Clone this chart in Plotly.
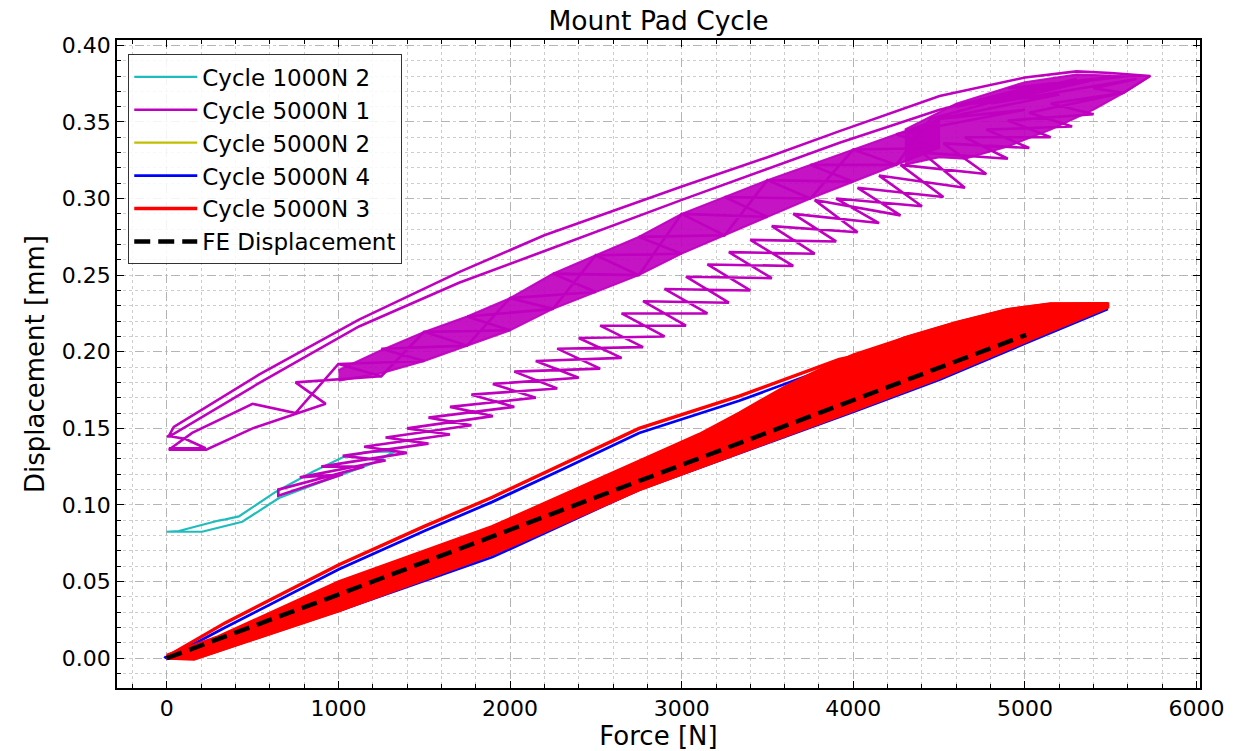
import plotly.graph_objects as go

# ---------------- data ----------------
# Cycle 1000N 2 (cyan)
c1000_2_x = [0, 206, 440, 654, 829, 1004, 1198, 1330, 1159, 1023, 848, 634, 420, 342, 303, 70, 0]
c1000_2_y = [0.0825, 0.0825, 0.0890, 0.1045, 0.1120, 0.1190, 0.1270, 0.1350, 0.1345, 0.1310, 0.1215, 0.1085, 0.0925, 0.0906, 0.0898, 0.0830, 0.0825]

# Cycle 5000N 1 (magenta) - traced path through the loops
c5000_1_x = [
    # start cluster + outer loading line
    12, 226, 110, 12, 41, 537, 1120, 1703, 2200, 3005, 3500, 3920, 4503, 5000, 5300, 5500, 5730,
    # unloading down the lower band
    5575, 5025, 5275, 4775, 5025, 4525, 4775, 4275, 4525, 4025, 4275, 3775, 4025, 3525, 3775, 3275,
    3525, 3025, 3275, 2775, 3025, 2525, 2775, 2275, 2525, 2025, 2275, 1775, 2025, 1525, 1775, 1275,
    1525, 1025, 1275, 775, 1025, 650,
    # reloading up the lower band
    650, 1150, 900, 1400, 1150, 1650, 1400, 1900, 1650, 2150, 1900, 2400, 2150, 2650, 2400, 2900,
    2650, 3150, 2900, 3400, 3150, 3650, 3400, 3900, 3650, 4150, 3900, 4400, 4150, 4650, 4400, 4900,
    4650, 5150, 4900, 5400, 5150, 5575, 5400, 5650,
    # top cluster and middle band downwards
    4800, 5500, 4600, 5300, 4450,
    4250, 4000, 3750, 3500, 3250, 3000, 2750, 2500, 2250, 2000, 1750, 1500, 1250, 1000, 750, 500,
    148, 12, 230, 500, 926,
    # middle band upwards
    750, 1250, 1000, 1500, 1250, 1750, 1500, 2000, 1750, 2250, 2000, 2500, 2250, 2750, 2500, 3000,
    2750, 3250, 3000, 3500, 3250, 3750, 3500, 4000, 3750, 4250, 4000, 4500, 4250,
    5000, 4500, 5200, 4700, 5400, 4900, 5600,
    # second outer line back to the start
    5000, 4503, 3920, 3005, 2170, 1703, 1120, 537, 31, 0,
]
c5000_1_y = [
    0.137, 0.137, 0.143, 0.145, 0.151, 0.185, 0.221, 0.252, 0.276, 0.308, 0.327, 0.344, 0.367, 0.379, 0.383, 0.382, 0.380,
    0.369, 0.356, 0.347, 0.345, 0.333, 0.336, 0.316, 0.322, 0.301, 0.307, 0.289, 0.299, 0.278, 0.282, 0.264, 0.265,
    0.248, 0.249, 0.232, 0.233, 0.217, 0.217, 0.203, 0.202, 0.189, 0.187, 0.176, 0.172, 0.164, 0.157, 0.152, 0.144,
    0.140, 0.132, 0.129, 0.118, 0.120, 0.106,
    0.110, 0.125, 0.125, 0.134, 0.138, 0.146, 0.150, 0.158, 0.164, 0.170, 0.179, 0.183, 0.194, 0.196, 0.209, 0.210,
    0.225, 0.225, 0.241, 0.240, 0.257, 0.256, 0.273, 0.272, 0.290, 0.284, 0.300, 0.295, 0.315, 0.307, 0.330, 0.326,
    0.340, 0.340, 0.351, 0.355, 0.362, 0.369, 0.372, 0.378,
    0.362, 0.380, 0.360, 0.378, 0.352,
    0.322, 0.332, 0.300, 0.312, 0.276, 0.290, 0.250, 0.263, 0.228, 0.235, 0.204, 0.213, 0.184, 0.192, 0.160, 0.166,
    0.147, 0.136, 0.136, 0.150, 0.166,
    0.180, 0.184, 0.192, 0.194, 0.202, 0.204, 0.213, 0.214, 0.223, 0.228, 0.235, 0.239, 0.251, 0.250, 0.263, 0.264,
    0.275, 0.276, 0.290, 0.288, 0.301, 0.300, 0.312, 0.311, 0.322, 0.322, 0.332, 0.333, 0.342,
    0.358, 0.352, 0.368, 0.362, 0.378, 0.372, 0.380,
    0.372, 0.358, 0.3364, 0.2993, 0.2645, 0.245, 0.2165, 0.1795, 0.1458, 0.1445,
]
# densely overlapping parts of Cycle 5000N 1 (middle band and top cluster outlines)
c5000_1_mid_x = [1000, 1250, 1500, 1750, 2000, 2250, 2500, 2750, 3000, 3250, 3500, 3750, 4000, 4250, 4500,
                 4500, 4250, 4000, 3750, 3500, 3250, 3000, 2750, 2500, 2250, 2000, 1750, 1500, 1250, 1000]
c5000_1_mid_y = [0.188, 0.201, 0.213, 0.223, 0.235, 0.251, 0.263, 0.275, 0.290, 0.301, 0.312, 0.322, 0.332, 0.342, 0.352,
                 0.333, 0.322, 0.311, 0.300, 0.288, 0.276, 0.264, 0.250, 0.239, 0.228, 0.214, 0.204, 0.194, 0.186, 0.181]
c5000_1_top_x = [4300, 4600, 5000, 5300, 5600, 5730, 5575, 5400, 5150, 4900, 4650, 4500, 4300]
c5000_1_top_y = [0.345, 0.362, 0.376, 0.381, 0.380, 0.380, 0.369, 0.358, 0.345, 0.334, 0.326, 0.327, 0.322]

# Cycle 5000N 2 (olive) - lies underneath the red band
c5000_2_x = [0, 1000, 2000, 3000, 4000, 5000, 5450]
c5000_2_y = [0.0, 0.042, 0.079, 0.130, 0.178, 0.218, 0.230]

# Cycle 5000N 4 (blue)
c5000_4_x = [-15, 0, 340, 1003, 1500, 1897, 2300, 2752, 3335, 3918, 4060, 4600, 5100, 5483,
             5007, 4501, 4006, 3335, 2752, 1897, 1003, 300, 0]
c5000_4_y = [0.001, 0.0, 0.020, 0.058, 0.083, 0.102, 0.123, 0.147, 0.168, 0.192, 0.196, 0.212, 0.224, 0.228,
             0.2057, 0.1817, 0.161, 0.1338, 0.1100, 0.066, 0.031, 0.008, 0.0]

# Cycle 5000N 3 (red): first loading line, then the band of repeated cycles
c5000_3_x = [0, 340, 1003, 1500, 1897, 2300, 2752, 3335, 3918, 4074, 4300, 4600, 4900, 5150, 5483,
             5007, 4501, 4006, 3335, 2752, 1897, 1003, 160, 0]
c5000_3_y = [0.001, 0.023, 0.061, 0.086, 0.105, 0.126, 0.150, 0.171, 0.195, 0.1985, 0.209, 0.219, 0.2275, 0.2312, 0.2314,
             0.207, 0.183, 0.162, 0.134, 0.110, 0.068, 0.031, -0.0005, 0.0]
band_top_x = [0, 300, 1003, 1897, 2800, 3100, 3335, 3600, 3800, 4000, 4300, 4600, 4900, 5150, 5483]
band_top_y = [0.002, 0.014, 0.050, 0.086, 0.131, 0.146, 0.160, 0.177, 0.188, 0.198, 0.209, 0.219, 0.2275, 0.2312, 0.2314]
band_bot_x = [5483, 5007, 4501, 4006, 3335, 2752, 1897, 1003, 160, 0]
band_bot_y = [0.229, 0.207, 0.183, 0.162, 0.134, 0.110, 0.068, 0.031, -0.0005, 0.0]

# FE Displacement
fe_x = [0, 1000, 2000, 3000, 4000, 5007]
fe_y = [0.0, 0.0415, 0.0838, 0.1260, 0.1683, 0.2110]

x_ticks = [0, 1000, 2000, 3000, 4000, 5000, 6000]
y_ticks = [0.00, 0.05, 0.10, 0.15, 0.20, 0.25, 0.30, 0.35, 0.40]

# ---------------- figure ----------------
FONT = "DejaVu Sans"
MAG = "#bf00bf"
MAG_FILL = "rgba(191,0,191,0.92)"
fig = go.Figure()

fig.add_trace(go.Scatter(x=c1000_2_x, y=c1000_2_y, mode="lines", name="Cycle 1000N 2",
                         line=dict(color="#1fbcbc", width=2.2), legendgroup="g1"))
for fx, fy in ((c5000_1_mid_x, c5000_1_mid_y), (c5000_1_top_x, c5000_1_top_y)):
    fig.add_trace(go.Scatter(x=fx, y=fy, mode="lines", fill="toself", fillcolor=MAG_FILL,
                             line=dict(color=MAG_FILL, width=2), showlegend=False,
                             hoverinfo="skip", legendgroup="g2"))
fig.add_trace(go.Scatter(x=c5000_1_x, y=c5000_1_y, mode="lines", name="Cycle 5000N 1",
                         line=dict(color=MAG, width=2.6), legendgroup="g2"))
fig.add_trace(go.Scatter(x=c5000_2_x, y=c5000_2_y, mode="lines", name="Cycle 5000N 2",
                         line=dict(color="#bfbf00", width=2.2), legendgroup="g3"))
fig.add_trace(go.Scatter(x=c5000_4_x, y=c5000_4_y, mode="lines", name="Cycle 5000N 4",
                         line=dict(color="#0000ff", width=2.8), legendgroup="g4"))
fig.add_trace(go.Scatter(x=c5000_3_x, y=c5000_3_y, mode="lines", name="Cycle 5000N 3",
                         line=dict(color="#ff0000", width=3.4), legendgroup="g5"))
fig.add_trace(go.Scatter(x=band_top_x + band_bot_x, y=band_top_y + band_bot_y, mode="lines",
                         fill="toself", fillcolor="#ff0000", showlegend=False, hoverinfo="skip",
                         line=dict(color="#ff0000", width=3), legendgroup="g5"))
fig.add_trace(go.Scatter(x=fe_x, y=fe_y, mode="lines", name="FE Displacement",
                         line=dict(color="black", width=4.5, dash="16px,8px"), legendgroup="g6"))

axis_common = dict(
    showline=True, linecolor="black", linewidth=1.5, mirror="allticks",
    ticks="inside", ticklen=7, tickwidth=1.2, tickcolor="black",
    showgrid=True, gridcolor="#b4b4b4", gridwidth=1, griddash="dash",
    zeroline=False, automargin=False,
    tickfont=dict(family=FONT, size=22, color="black"),
)

fig.update_xaxes(
    **axis_common,
    range=[-290, 6020], tickvals=x_ticks, ticktext=[str(v) for v in x_ticks],
    minor=dict(dtick=200, tick0=0, ticks="inside", ticklen=4, tickcolor="black",
               showgrid=True, gridcolor="#cdcdcd", griddash="dot", gridwidth=1),
    title=dict(text="Force [N]", font=dict(family=FONT, size=26, color="black"), standoff=4),
)
fig.update_yaxes(
    **axis_common,
    range=[-0.0195, 0.4035], tickvals=y_ticks, ticktext=[f"{v:.2f}" for v in y_ticks],
    minor=dict(dtick=0.01, tick0=0, ticks="inside", ticklen=4, tickcolor="black",
               showgrid=True, gridcolor="#cdcdcd", griddash="dot", gridwidth=1),
    title=dict(text="Displacement [mm]", font=dict(family=FONT, size=26, color="black"), standoff=10),
)

fig.update_layout(
    width=1237, height=751,
    margin=dict(l=117, r=37, t=40, b=63),
    paper_bgcolor="white", plot_bgcolor="white",
    title=dict(text="Mount Pad Cycle", x=0.5, xref="paper", xanchor="center",
               y=1 - 21 / 751, yref="container", yanchor="middle",
               font=dict(family=FONT, size=26.5, color="black")),
    font=dict(family=FONT, color="black"),
    legend=dict(x=0.0102, y=0.978, xanchor="left", yanchor="top",
                bgcolor="rgba(255,255,255,0.85)", bordercolor="#333333", borderwidth=1.2,
                font=dict(family=FONT, size=23, color="black"),
                traceorder="grouped", tracegroupgap=0, itemwidth=63),
    showlegend=True,
)

fig.write_html("out.html", config={"displayModeBar": False},
               post_script="document.body.style.margin='0';")
